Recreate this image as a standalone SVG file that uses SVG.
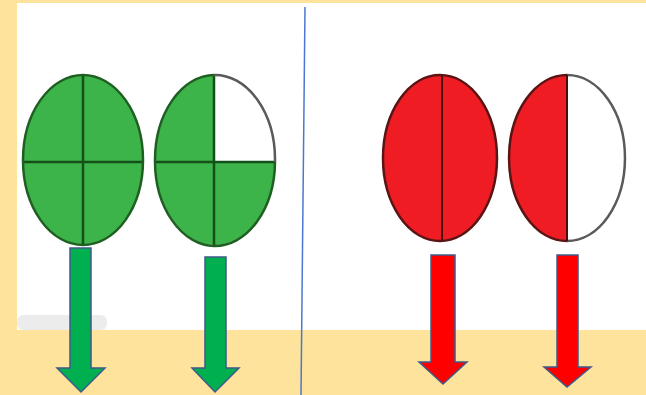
<svg xmlns="http://www.w3.org/2000/svg" width="646" height="395" viewBox="0 0 646 395">
<style>
.g{fill:#3cb449;stroke:none}
.r{fill:#ef1c24;stroke:none}
.w{fill:#ffffff;stroke:none}
.og{fill:none;stroke:#1f5f22;stroke-width:2.5}
.or{fill:none;stroke:#5a1414;stroke-width:2.5}
.ow{fill:none;stroke:#5a5a5a;stroke-width:2.5}
.lg{stroke:#13501a;stroke-width:2.5}
.lr{stroke:#4a0c0c;stroke-width:2}
.ag{fill:#00b050;stroke:#3f5a8a;stroke-width:1.5}
.ar{fill:#ff0000;stroke:#3f5a8a;stroke-width:1.5}
</style>
<rect x="0" y="0" width="646" height="395" fill="#fde39b"/>
<rect x="17" y="3" width="286" height="327" fill="#ffffff"/>
<rect x="303" y="3" width="343" height="327" fill="#ffffff"/>
<rect x="17" y="315" width="90" height="15" rx="6" fill="#ececec"/>
<line x1="305" y1="7" x2="301" y2="395" stroke="#4a78d0" stroke-width="1.5"/>

<g id="green-whole">
  <ellipse class="g" cx="83" cy="160" rx="60" ry="85"/>
  <line class="lg" x1="83" y1="75" x2="83" y2="245"/>
  <line class="lg" x1="23" y1="162" x2="143" y2="162"/>
  <ellipse class="og" cx="83" cy="160" rx="60" ry="85"/>
</g>

<g id="green-three-quarters">
  <ellipse class="g" cx="215" cy="160" rx="60" ry="85"/>
  <path class="w" d="M215,162 L215,75 A60,85 0 0 1 275,162 Z"/>
  <line class="lg" x1="214" y1="75" x2="214" y2="245"/>
  <line class="lg" x1="155" y1="162" x2="275" y2="162"/>
  <path class="og" d="M214,75 A60,85 0 0 0 155,160 A60,85 0 0 0 275,162"/>
  <path class="ow" d="M214,75 A60,85 0 0 1 275,162"/>
</g>

<g id="red-whole">
  <ellipse class="r" cx="440" cy="158" rx="57" ry="83"/>
  <line class="lr" x1="442" y1="75" x2="442" y2="241"/>
  <ellipse class="or" cx="440" cy="158" rx="57" ry="83"/>
</g>

<g id="red-half">
  <ellipse class="w" cx="567" cy="158" rx="58" ry="83"/>
  <path class="r" d="M567,75 A58,83 0 0 0 567,241 Z"/>
  <path class="or" d="M567,75 A58,83 0 0 0 567,241"/>
  <path class="ow" d="M567,75 A58,83 0 0 1 567,241"/>
  <line class="lr" x1="567" y1="75" x2="567" y2="241"/>
</g>

<g id="arrows">
  <path class="ag" d="M70,248 L91,248 L91,368 L105,368 L81,392 L57,368 L70,368 Z"/>
  <path class="ag" d="M205,257 L226,257 L226,368 L239,368 L215,392 L192,368 L205,368 Z"/>
  <path class="ar" d="M431,255 L455,255 L455,362 L467,362 L443,384 L419,362 L431,362 Z"/>
  <path class="ar" d="M557,255 L578,255 L578,367 L591,367 L567,387 L544,367 L557,367 Z"/>
</g>
</svg>
